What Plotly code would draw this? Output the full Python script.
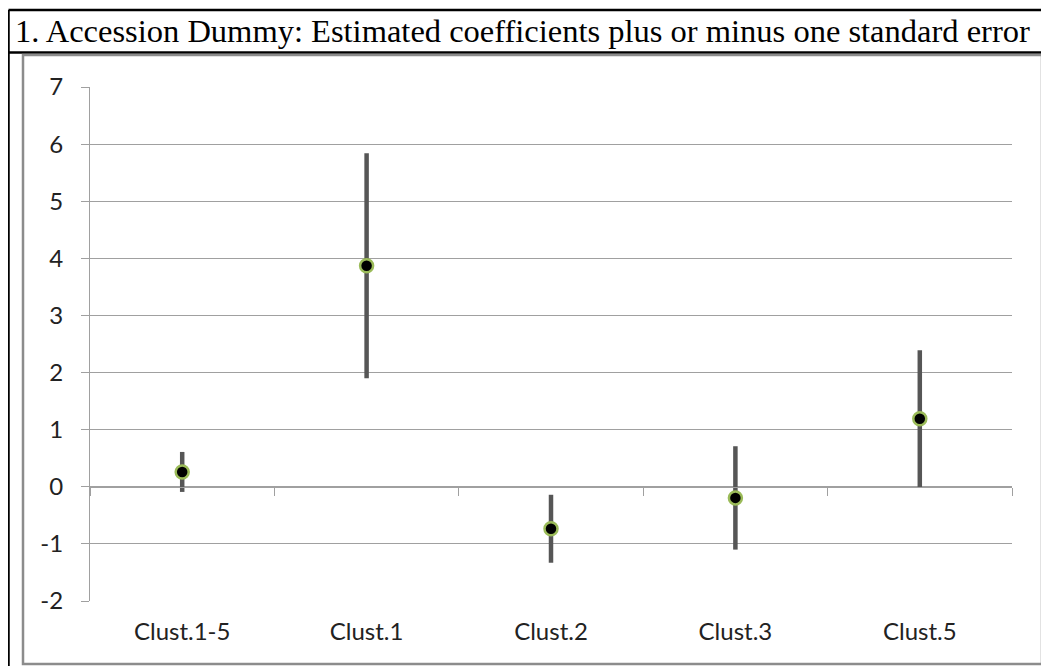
import plotly.graph_objects as go

categories = ["Clust.1-5", "Clust.1", "Clust.2", "Clust.3", "Clust.5"]
coef = [0.26, 3.87, -0.735, -0.195, 1.19]
std_err = [0.35, 1.97, 0.595, 0.905, 1.20]
y_ticks = [-2, -1, 0, 1, 2, 3, 4, 5, 6, 7]
title_text = "1. Accession Dummy: Estimated coefficients plus or minus one standard error"

OFF = 8  # browser body margin
W, H = 1049 - OFF, 666 - OFF
L, R, T, B = 90 - OFF, 37, 87 - OFF, 73 - OFF
PW, PH = W - L - R, H - T - B

def px(x):
    return (x - OFF - L) / PW

def py(y):
    return (H - B - (y - OFF)) / PH

xpos = list(range(len(categories)))
GRID = "#a0a0a0"

fig = go.Figure()
fig.add_trace(go.Scatter(
    x=xpos, y=coef, mode="markers",
    marker=dict(size=13, color="black", line=dict(color="#9bbb59", width=2.5)),
    error_y=dict(type="data", array=std_err, symmetric=True, width=0,
                 thickness=4.5, color="#565656"),
    showlegend=False, hoverinfo="skip",
))
fig.add_trace(go.Scatter(x=[xpos[0]], y=[coef[0]], xaxis="x2", mode="markers",
                         marker=dict(opacity=0), showlegend=False, hoverinfo="skip"))

fig.update_layout(
    width=W, height=H,
    margin=dict(l=L, r=R, t=T, b=B),
    paper_bgcolor="white", plot_bgcolor="white",
    font=dict(family="Lato", size=24, color="#222222"),
    xaxis=dict(range=[-0.5, len(categories) - 0.5], tickmode="array",
               tickvals=xpos, ticktext=categories, showgrid=False,
               zeroline=False, showline=False, ticks="", ticklabelstandoff=14,
               tickfont=dict(family="Lato", size=24, color="#222222")),
    xaxis2=dict(range=[-0.5, len(categories) - 0.5], overlaying="x",
                anchor="free", position=2 / 9, side="bottom",
                tickmode="array", tickvals=[i - 0.5 for i in range(len(categories) + 1)],
                showticklabels=False, ticks="outside", ticklen=8, tickwidth=1,
                tickcolor=GRID, showline=True, linecolor=GRID, linewidth=1,
                showgrid=False, zeroline=False),
    yaxis=dict(range=[y_ticks[0], y_ticks[-1]], tickmode="array", tickvals=y_ticks,
               ticktext=[str(v) for v in y_ticks],
               showgrid=True, gridcolor=GRID, gridwidth=1, zeroline=False,
               showline=True, linecolor=GRID, linewidth=1,
               ticks="outside", ticklen=8, tickcolor=GRID, ticklabelstandoff=13,
               tickfont=dict(family="Lato", size=24, color="#222222")),
    shapes=[
        dict(type="line", xref="paper", yref="paper", x0=px(8.5), x1=px(1070),
             y0=py(10), y1=py(10), line=dict(color="black", width=2.5)),
        dict(type="line", xref="paper", yref="paper", x0=px(8.5), x1=px(1070),
             y0=py(52.5), y1=py(52.5), line=dict(color="black", width=2.5)),
        dict(type="line", xref="paper", yref="paper", x0=px(8.5), x1=px(8.5),
             y0=py(10), y1=py(690), line=dict(color="black", width=2.5)),
        dict(type="rect", xref="paper", yref="paper", x0=px(23), x1=px(1042),
             y0=py(55), y1=py(664), line=dict(color="#8c8c8c", width=2.5)),
    ],
    annotations=[dict(text=title_text, xref="paper", yref="paper",
                      x=px(13), y=py(31.5), xanchor="left", yanchor="middle",
                      showarrow=False,
                      font=dict(family="Liberation Serif", size=32.5, color="black"))],
)

fig.write_html("out.html")
